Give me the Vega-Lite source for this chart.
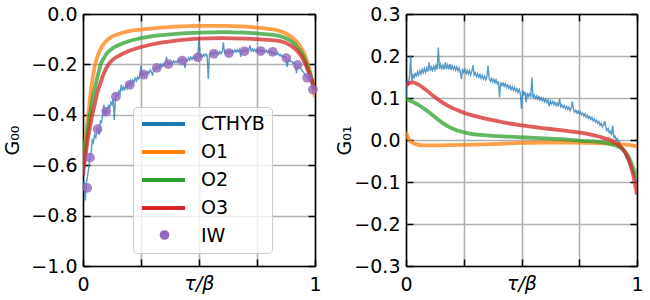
{
"$schema":"https://vega.github.io/schema/vega-lite/v6.json",
"padding":{"left":3,"top":5,"right":5,"bottom":3},
"bounds":"flush",
"spacing":91,
"datasets":{
"oL":[
{"s":"O1","t":0,"v":-0.6},{"s":"O1","t":0.005,"v":-0.55},{"s":"O1","t":0.01,"v":-0.5},{"s":"O1","t":0.015,"v":-0.46},{"s":"O1","t":0.02,"v":-0.42},{"s":"O1","t":0.025,"v":-0.38},{"s":"O1","t":0.03,"v":-0.335},{"s":"O1","t":0.04,"v":-0.265},{"s":"O1","t":0.05,"v":-0.21},{"s":"O1","t":0.06,"v":-0.175},{"s":"O1","t":0.075,"v":-0.14},{"s":"O1","t":0.1,"v":-0.107},{"s":"O1","t":0.125,"v":-0.09},{"s":"O1","t":0.15,"v":-0.08},{"s":"O1","t":0.2,"v":-0.068},{"s":"O1","t":0.25,"v":-0.062},{"s":"O1","t":0.3,"v":-0.057},{"s":"O1","t":0.4,"v":-0.05},{"s":"O1","t":0.5,"v":-0.047},{"s":"O1","t":0.6,"v":-0.047},{"s":"O1","t":0.7,"v":-0.05},{"s":"O1","t":0.75,"v":-0.054},{"s":"O1","t":0.8,"v":-0.059},{"s":"O1","t":0.85,"v":-0.068},{"s":"O1","t":0.9,"v":-0.092},{"s":"O1","t":0.93,"v":-0.12},{"s":"O1","t":0.95,"v":-0.15},{"s":"O1","t":0.97,"v":-0.2},{"s":"O1","t":0.98,"v":-0.235},{"s":"O1","t":0.99,"v":-0.28},{"s":"O1","t":1,"v":-0.33},
{"s":"O2","t":0,"v":-0.62},{"s":"O2","t":0.005,"v":-0.58},{"s":"O2","t":0.01,"v":-0.54},{"s":"O2","t":0.02,"v":-0.46},{"s":"O2","t":0.03,"v":-0.4},{"s":"O2","t":0.04,"v":-0.34},{"s":"O2","t":0.05,"v":-0.3},{"s":"O2","t":0.06,"v":-0.26},{"s":"O2","t":0.076,"v":-0.2},{"s":"O2","t":0.09,"v":-0.175},{"s":"O2","t":0.1,"v":-0.16},{"s":"O2","t":0.125,"v":-0.138},{"s":"O2","t":0.15,"v":-0.125},{"s":"O2","t":0.2,"v":-0.107},{"s":"O2","t":0.25,"v":-0.096},{"s":"O2","t":0.3,"v":-0.088},{"s":"O2","t":0.4,"v":-0.079},{"s":"O2","t":0.5,"v":-0.074},{"s":"O2","t":0.6,"v":-0.072},{"s":"O2","t":0.7,"v":-0.074},{"s":"O2","t":0.75,"v":-0.077},{"s":"O2","t":0.8,"v":-0.081},{"s":"O2","t":0.85,"v":-0.088},{"s":"O2","t":0.9,"v":-0.11},{"s":"O2","t":0.93,"v":-0.138},{"s":"O2","t":0.95,"v":-0.168},{"s":"O2","t":0.97,"v":-0.215},{"s":"O2","t":0.98,"v":-0.24},{"s":"O2","t":0.99,"v":-0.27},{"s":"O2","t":1,"v":-0.3},
{"s":"O3","t":0,"v":-0.64},{"s":"O3","t":0.005,"v":-0.6},{"s":"O3","t":0.01,"v":-0.57},{"s":"O3","t":0.02,"v":-0.5},{"s":"O3","t":0.03,"v":-0.45},{"s":"O3","t":0.04,"v":-0.4},{"s":"O3","t":0.05,"v":-0.36},{"s":"O3","t":0.06,"v":-0.32},{"s":"O3","t":0.075,"v":-0.275},{"s":"O3","t":0.09,"v":-0.235},{"s":"O3","t":0.11,"v":-0.2},{"s":"O3","t":0.13,"v":-0.18},{"s":"O3","t":0.15,"v":-0.168},{"s":"O3","t":0.2,"v":-0.146},{"s":"O3","t":0.25,"v":-0.131},{"s":"O3","t":0.3,"v":-0.12},{"s":"O3","t":0.4,"v":-0.106},{"s":"O3","t":0.5,"v":-0.098},{"s":"O3","t":0.6,"v":-0.096},{"s":"O3","t":0.7,"v":-0.098},{"s":"O3","t":0.75,"v":-0.1},{"s":"O3","t":0.8,"v":-0.103},{"s":"O3","t":0.85,"v":-0.108},{"s":"O3","t":0.9,"v":-0.128},{"s":"O3","t":0.93,"v":-0.153},{"s":"O3","t":0.95,"v":-0.182},{"s":"O3","t":0.97,"v":-0.225},{"s":"O3","t":0.98,"v":-0.25},{"s":"O3","t":0.99,"v":-0.27},{"s":"O3","t":1,"v":-0.29}
],
"oR":[
{"s":"O1","t":0,"v":0.02},{"s":"O1","t":0.005,"v":0.01},{"s":"O1","t":0.01,"v":0.004},{"s":"O1","t":0.02,"v":-0.003},{"s":"O1","t":0.03,"v":-0.007},{"s":"O1","t":0.05,"v":-0.011},{"s":"O1","t":0.08,"v":-0.013},{"s":"O1","t":0.12,"v":-0.013},{"s":"O1","t":0.2,"v":-0.012},{"s":"O1","t":0.3,"v":-0.011},{"s":"O1","t":0.4,"v":-0.009},{"s":"O1","t":0.5,"v":-0.007},{"s":"O1","t":0.6,"v":-0.006},{"s":"O1","t":0.7,"v":-0.006},{"s":"O1","t":0.8,"v":-0.007},{"s":"O1","t":0.85,"v":-0.008},{"s":"O1","t":0.9,"v":-0.009},{"s":"O1","t":0.95,"v":-0.011},{"s":"O1","t":1,"v":-0.015},
{"s":"O2","t":0,"v":0.098},{"s":"O2","t":0.02,"v":0.093},{"s":"O2","t":0.05,"v":0.085},{"s":"O2","t":0.08,"v":0.074},{"s":"O2","t":0.1,"v":0.066},{"s":"O2","t":0.12,"v":0.057},{"s":"O2","t":0.155,"v":0.042},{"s":"O2","t":0.19,"v":0.03},{"s":"O2","t":0.226,"v":0.022},{"s":"O2","t":0.27,"v":0.016},{"s":"O2","t":0.32,"v":0.012},{"s":"O2","t":0.37,"v":0.01},{"s":"O2","t":0.45,"v":0.008},{"s":"O2","t":0.515,"v":0.006},{"s":"O2","t":0.6,"v":0.004},{"s":"O2","t":0.7,"v":0.001},{"s":"O2","t":0.76,"v":-0.002},{"s":"O2","t":0.82,"v":-0.004},{"s":"O2","t":0.876,"v":-0.008},{"s":"O2","t":0.91,"v":-0.014},{"s":"O2","t":0.94,"v":-0.023},{"s":"O2","t":0.96,"v":-0.037},{"s":"O2","t":0.97,"v":-0.048},{"s":"O2","t":0.98,"v":-0.062},{"s":"O2","t":0.99,"v":-0.076},{"s":"O2","t":1,"v":-0.09},
{"s":"O3","t":0,"v":0.128},{"s":"O3","t":0.01,"v":0.134},{"s":"O3","t":0.03,"v":0.137},{"s":"O3","t":0.05,"v":0.133},{"s":"O3","t":0.08,"v":0.122},{"s":"O3","t":0.12,"v":0.104},{"s":"O3","t":0.155,"v":0.09},{"s":"O3","t":0.19,"v":0.079},{"s":"O3","t":0.226,"v":0.07},{"s":"O3","t":0.26,"v":0.063},{"s":"O3","t":0.3,"v":0.057},{"s":"O3","t":0.37,"v":0.048},{"s":"O3","t":0.44,"v":0.04},{"s":"O3","t":0.51,"v":0.034},{"s":"O3","t":0.58,"v":0.029},{"s":"O3","t":0.66,"v":0.024},{"s":"O3","t":0.72,"v":0.02},{"s":"O3","t":0.76,"v":0.017},{"s":"O3","t":0.8,"v":0.013},{"s":"O3","t":0.83,"v":0.009},{"s":"O3","t":0.86,"v":0.004},{"s":"O3","t":0.89,"v":-0.001},{"s":"O3","t":0.92,"v":-0.012},{"s":"O3","t":0.948,"v":-0.029},{"s":"O3","t":0.965,"v":-0.048},{"s":"O3","t":0.977,"v":-0.069},{"s":"O3","t":0.99,"v":-0.1},{"s":"O3","t":1,"v":-0.13}
],
"iw":[
{"t":0.018,"v":-0.69},{"t":0.03,"v":-0.57},{"t":0.063,"v":-0.457},{"t":0.1,"v":-0.387},{"t":0.142,"v":-0.328},{"t":0.202,"v":-0.281},{"t":0.262,"v":-0.241},{"t":0.318,"v":-0.214},{"t":0.368,"v":-0.199},{"t":0.428,"v":-0.185},{"t":0.495,"v":-0.172},{"t":0.564,"v":-0.158},{"t":0.629,"v":-0.155},{"t":0.696,"v":-0.148},{"t":0.766,"v":-0.147},{"t":0.818,"v":-0.15},{"t":0.877,"v":-0.175},{"t":0.925,"v":-0.202},{"t":0.966,"v":-0.253},{"t":0.991,"v":-0.3}
],
"cL":[
{"t":0,"v":-0.7},{"t":0.005,"v":-0.66},{"t":0.01,"v":-0.74},{"t":0.015,"v":-0.67},{"t":0.02,"v":-0.64},{"t":0.025,"v":-0.61},{"t":0.03,"v":-0.565},{"t":0.035,"v":-0.555},{"t":0.04,"v":-0.5},{"t":0.045,"v":-0.51},{"t":0.05,"v":-0.48},{"t":0.055,"v":-0.49},{"t":0.06,"v":-0.455},{"t":0.065,"v":-0.46},{"t":0.07,"v":-0.48},{"t":0.075,"v":-0.425},{"t":0.08,"v":-0.43},{"t":0.085,"v":-0.4},{"t":0.09,"v":-0.36},{"t":0.095,"v":-0.405},{"t":0.1,"v":-0.38},{"t":0.105,"v":-0.39},{"t":0.11,"v":-0.36},{"t":0.115,"v":-0.375},{"t":0.12,"v":-0.35},{"t":0.125,"v":-0.36},{"t":0.13,"v":-0.335},{"t":0.135,"v":-0.42},{"t":0.14,"v":-0.33},{"t":0.145,"v":-0.32},{"t":0.15,"v":-0.325},{"t":0.155,"v":-0.305},{"t":0.16,"v":-0.315},{"t":0.165,"v":-0.28},{"t":0.17,"v":-0.305},{"t":0.175,"v":-0.29},{"t":0.18,"v":-0.3},{"t":0.185,"v":-0.28},{"t":0.19,"v":-0.295},{"t":0.195,"v":-0.275},{"t":0.2,"v":-0.285},{"t":0.205,"v":-0.265},{"t":0.21,"v":-0.28},{"t":0.215,"v":-0.262},{"t":0.22,"v":-0.27},{"t":0.225,"v":-0.255},{"t":0.23,"v":-0.265},{"t":0.235,"v":-0.25},{"t":0.24,"v":-0.258},{"t":0.245,"v":-0.245},{"t":0.25,"v":-0.205},{"t":0.255,"v":-0.243},{"t":0.26,"v":-0.238},{"t":0.265,"v":-0.245},{"t":0.27,"v":-0.232},{"t":0.275,"v":-0.238},{"t":0.28,"v":-0.228},{"t":0.285,"v":-0.235},{"t":0.29,"v":-0.222},{"t":0.295,"v":-0.23},{"t":0.3,"v":-0.245},{"t":0.305,"v":-0.218},{"t":0.31,"v":-0.222},{"t":0.315,"v":-0.21},{"t":0.32,"v":-0.218},{"t":0.325,"v":-0.205},{"t":0.33,"v":-0.212},{"t":0.335,"v":-0.2},{"t":0.34,"v":-0.21},{"t":0.345,"v":-0.198},{"t":0.35,"v":-0.206},{"t":0.355,"v":-0.195},{"t":0.36,"v":-0.17},{"t":0.365,"v":-0.2},{"t":0.37,"v":-0.193},{"t":0.375,"v":-0.2},{"t":0.38,"v":-0.19},{"t":0.385,"v":-0.197},{"t":0.39,"v":-0.186},{"t":0.395,"v":-0.194},{"t":0.4,"v":-0.187},{"t":0.405,"v":-0.193},{"t":0.41,"v":-0.18},{"t":0.415,"v":-0.19},{"t":0.42,"v":-0.183},{"t":0.425,"v":-0.188},{"t":0.43,"v":-0.178},{"t":0.435,"v":-0.186},{"t":0.44,"v":-0.215},{"t":0.445,"v":-0.18},{"t":0.45,"v":-0.185},{"t":0.455,"v":-0.174},{"t":0.46,"v":-0.182},{"t":0.465,"v":-0.172},{"t":0.47,"v":-0.18},{"t":0.475,"v":-0.17},{"t":0.48,"v":-0.178},{"t":0.485,"v":-0.168},{"t":0.49,"v":-0.176},{"t":0.495,"v":-0.165},{"t":0.5,"v":-0.09},{"t":0.505,"v":-0.172},{"t":0.51,"v":-0.162},{"t":0.515,"v":-0.17},{"t":0.52,"v":-0.16},{"t":0.525,"v":-0.168},{"t":0.53,"v":-0.158},{"t":0.535,"v":-0.165},{"t":0.54,"v":-0.258},{"t":0.545,"v":-0.16},{"t":0.55,"v":-0.155},{"t":0.555,"v":-0.162},{"t":0.56,"v":-0.153},{"t":0.565,"v":-0.16},{"t":0.57,"v":-0.15},{"t":0.575,"v":-0.158},{"t":0.58,"v":-0.152},{"t":0.585,"v":-0.16},{"t":0.59,"v":-0.149},{"t":0.595,"v":-0.157},{"t":0.6,"v":-0.15},{"t":0.605,"v":-0.112},{"t":0.61,"v":-0.155},{"t":0.615,"v":-0.148},{"t":0.62,"v":-0.157},{"t":0.625,"v":-0.147},{"t":0.63,"v":-0.155},{"t":0.635,"v":-0.146},{"t":0.64,"v":-0.154},{"t":0.645,"v":-0.145},{"t":0.65,"v":-0.152},{"t":0.655,"v":-0.143},{"t":0.66,"v":-0.151},{"t":0.665,"v":-0.142},{"t":0.67,"v":-0.15},{"t":0.675,"v":-0.141},{"t":0.68,"v":-0.17},{"t":0.685,"v":-0.143},{"t":0.69,"v":-0.15},{"t":0.695,"v":-0.141},{"t":0.7,"v":-0.149},{"t":0.705,"v":-0.14},{"t":0.71,"v":-0.148},{"t":0.715,"v":-0.14},{"t":0.72,"v":-0.125},{"t":0.725,"v":-0.147},{"t":0.73,"v":-0.139},{"t":0.735,"v":-0.148},{"t":0.74,"v":-0.14},{"t":0.745,"v":-0.149},{"t":0.75,"v":-0.14},{"t":0.755,"v":-0.15},{"t":0.76,"v":-0.141},{"t":0.765,"v":-0.15},{"t":0.77,"v":-0.142},{"t":0.775,"v":-0.151},{"t":0.78,"v":-0.143},{"t":0.785,"v":-0.152},{"t":0.79,"v":-0.144},{"t":0.795,"v":-0.153},{"t":0.8,"v":-0.145},{"t":0.805,"v":-0.155},{"t":0.81,"v":-0.147},{"t":0.815,"v":-0.157},{"t":0.82,"v":-0.15},{"t":0.825,"v":-0.158},{"t":0.83,"v":-0.152},{"t":0.835,"v":-0.16},{"t":0.84,"v":-0.155},{"t":0.845,"v":-0.165},{"t":0.85,"v":-0.16},{"t":0.855,"v":-0.168},{"t":0.86,"v":-0.164},{"t":0.865,"v":-0.173},{"t":0.87,"v":-0.17},{"t":0.875,"v":-0.178},{"t":0.88,"v":-0.21},{"t":0.885,"v":-0.181},{"t":0.89,"v":-0.185},{"t":0.895,"v":-0.189},{"t":0.9,"v":-0.188},{"t":0.905,"v":-0.196},{"t":0.91,"v":-0.194},{"t":0.915,"v":-0.2},{"t":0.92,"v":-0.235},{"t":0.925,"v":-0.205},{"t":0.93,"v":-0.21},{"t":0.935,"v":-0.215},{"t":0.94,"v":-0.218},{"t":0.945,"v":-0.226},{"t":0.95,"v":-0.23},{"t":0.955,"v":-0.238},{"t":0.96,"v":-0.243},{"t":0.965,"v":-0.25},{"t":0.97,"v":-0.256},{"t":0.975,"v":-0.264},{"t":0.98,"v":-0.27},{"t":0.985,"v":-0.28},{"t":0.99,"v":-0.288},{"t":0.995,"v":-0.296},{"t":1,"v":-0.305}
],
"cR":[
{"t":0,"v":0.1},{"t":0.005,"v":0.145},{"t":0.01,"v":0.13},{"t":0.015,"v":0.15},{"t":0.02,"v":0.2},{"t":0.025,"v":0.14},{"t":0.03,"v":0.155},{"t":0.035,"v":0.148},{"t":0.04,"v":0.16},{"t":0.045,"v":0.15},{"t":0.05,"v":0.163},{"t":0.055,"v":0.155},{"t":0.06,"v":0.165},{"t":0.065,"v":0.157},{"t":0.07,"v":0.168},{"t":0.075,"v":0.16},{"t":0.08,"v":0.17},{"t":0.085,"v":0.161},{"t":0.09,"v":0.172},{"t":0.095,"v":0.163},{"t":0.1,"v":0.185},{"t":0.105,"v":0.165},{"t":0.11,"v":0.174},{"t":0.115,"v":0.166},{"t":0.12,"v":0.176},{"t":0.125,"v":0.167},{"t":0.13,"v":0.178},{"t":0.135,"v":0.168},{"t":0.14,"v":0.22},{"t":0.145,"v":0.169},{"t":0.15,"v":0.18},{"t":0.155,"v":0.17},{"t":0.16,"v":0.178},{"t":0.165,"v":0.168},{"t":0.17,"v":0.185},{"t":0.175,"v":0.169},{"t":0.18,"v":0.179},{"t":0.185,"v":0.168},{"t":0.19,"v":0.181},{"t":0.195,"v":0.167},{"t":0.2,"v":0.177},{"t":0.205,"v":0.168},{"t":0.21,"v":0.175},{"t":0.215,"v":0.166},{"t":0.22,"v":0.174},{"t":0.225,"v":0.164},{"t":0.23,"v":0.172},{"t":0.235,"v":0.162},{"t":0.24,"v":0.145},{"t":0.245,"v":0.17},{"t":0.25,"v":0.161},{"t":0.255,"v":0.168},{"t":0.26,"v":0.158},{"t":0.265,"v":0.166},{"t":0.27,"v":0.157},{"t":0.275,"v":0.165},{"t":0.28,"v":0.155},{"t":0.285,"v":0.163},{"t":0.29,"v":0.178},{"t":0.295,"v":0.155},{"t":0.3,"v":0.16},{"t":0.305,"v":0.151},{"t":0.31,"v":0.158},{"t":0.315,"v":0.149},{"t":0.32,"v":0.156},{"t":0.325,"v":0.147},{"t":0.33,"v":0.154},{"t":0.335,"v":0.145},{"t":0.34,"v":0.152},{"t":0.345,"v":0.143},{"t":0.35,"v":0.15},{"t":0.355,"v":0.178},{"t":0.36,"v":0.146},{"t":0.365,"v":0.14},{"t":0.37,"v":0.147},{"t":0.375,"v":0.138},{"t":0.38,"v":0.145},{"t":0.385,"v":0.136},{"t":0.39,"v":0.143},{"t":0.395,"v":0.134},{"t":0.4,"v":0.14},{"t":0.405,"v":0.102},{"t":0.41,"v":0.137},{"t":0.415,"v":0.13},{"t":0.42,"v":0.136},{"t":0.425,"v":0.128},{"t":0.43,"v":0.134},{"t":0.435,"v":0.125},{"t":0.44,"v":0.131},{"t":0.445,"v":0.123},{"t":0.45,"v":0.129},{"t":0.455,"v":0.12},{"t":0.46,"v":0.127},{"t":0.465,"v":0.118},{"t":0.47,"v":0.125},{"t":0.475,"v":0.116},{"t":0.48,"v":0.122},{"t":0.485,"v":0.113},{"t":0.49,"v":0.12},{"t":0.495,"v":0.111},{"t":0.5,"v":0.074},{"t":0.505,"v":0.118},{"t":0.51,"v":0.108},{"t":0.515,"v":0.115},{"t":0.52,"v":0.09},{"t":0.525,"v":0.112},{"t":0.53,"v":0.104},{"t":0.535,"v":0.11},{"t":0.54,"v":0.102},{"t":0.545,"v":0.149},{"t":0.55,"v":0.1},{"t":0.555,"v":0.107},{"t":0.56,"v":0.099},{"t":0.565,"v":0.105},{"t":0.57,"v":0.097},{"t":0.575,"v":0.103},{"t":0.58,"v":0.095},{"t":0.585,"v":0.101},{"t":0.59,"v":0.093},{"t":0.595,"v":0.099},{"t":0.6,"v":0.091},{"t":0.605,"v":0.097},{"t":0.61,"v":0.089},{"t":0.615,"v":0.095},{"t":0.62,"v":0.08},{"t":0.625,"v":0.093},{"t":0.63,"v":0.086},{"t":0.635,"v":0.092},{"t":0.64,"v":0.084},{"t":0.645,"v":0.09},{"t":0.65,"v":0.082},{"t":0.655,"v":0.088},{"t":0.66,"v":0.08},{"t":0.665,"v":0.098},{"t":0.67,"v":0.079},{"t":0.675,"v":0.084},{"t":0.68,"v":0.077},{"t":0.685,"v":0.082},{"t":0.69,"v":0.075},{"t":0.695,"v":0.08},{"t":0.7,"v":0.073},{"t":0.705,"v":0.078},{"t":0.71,"v":0.07},{"t":0.715,"v":0.076},{"t":0.72,"v":0.092},{"t":0.725,"v":0.072},{"t":0.73,"v":0.066},{"t":0.735,"v":0.071},{"t":0.74,"v":0.064},{"t":0.745,"v":0.069},{"t":0.75,"v":0.062},{"t":0.755,"v":0.067},{"t":0.76,"v":0.06},{"t":0.765,"v":0.064},{"t":0.77,"v":0.057},{"t":0.775,"v":0.062},{"t":0.78,"v":0.054},{"t":0.785,"v":0.059},{"t":0.79,"v":0.052},{"t":0.795,"v":0.056},{"t":0.8,"v":0.049},{"t":0.805,"v":0.054},{"t":0.81,"v":0.046},{"t":0.815,"v":0.05},{"t":0.82,"v":0.043},{"t":0.825,"v":0.047},{"t":0.83,"v":0.039},{"t":0.835,"v":0.044},{"t":0.84,"v":0.035},{"t":0.845,"v":0.04},{"t":0.85,"v":0.031},{"t":0.855,"v":0.036},{"t":0.86,"v":0.045},{"t":0.865,"v":0.031},{"t":0.87,"v":0.022},{"t":0.875,"v":0.027},{"t":0.88,"v":0.017},{"t":0.885,"v":0.021},{"t":0.89,"v":0.011},{"t":0.895,"v":0.034},{"t":0.9,"v":0.006},{"t":0.905,"v":0.009},{"t":0.91,"v":0},{"t":0.915,"v":0.003},{"t":0.92,"v":-0.006},{"t":0.925,"v":-0.004},{"t":0.93,"v":-0.014},{"t":0.935,"v":-0.016},{"t":0.94,"v":-0.026},{"t":0.945,"v":-0.03},{"t":0.95,"v":-0.038},{"t":0.955,"v":-0.044},{"t":0.96,"v":-0.05},{"t":0.965,"v":-0.056},{"t":0.97,"v":-0.062},{"t":0.975,"v":-0.068},{"t":0.98,"v":-0.075},{"t":0.985,"v":-0.082},{"t":0.99,"v":-0.088},{"t":0.995,"v":-0.095},{"t":1,"v":-0.1}
]
},
"hconcat":[
{
"width":232,"height":252,
"layer":[
{"data":{"name":"cL"},"mark":{"type":"line","strokeWidth":1.4,"opacity":0.75,"clip":true},
"encoding":{
"x":{"field":"t","type":"quantitative","scale":{"domain":[0,1],"nice":false},"axis":{"orient":"top","values":[0,0.25,0.5,0.75,1],"labels":false,"grid":false,"title":null}},
"y":{"field":"v","type":"quantitative","scale":{"domain":[-1,0],"nice":false,"zero":false},"axis":{"orient":"right","values":[-1,-0.8,-0.6,-0.4,-0.2,0],"labels":false,"grid":false,"title":null}},
"color":{"datum":"CTHYB","type":"nominal","scale":{"domain":["CTHYB","O1","O2","O3","IW"],"range":["#1f77b4","#ff7f0e","#2ca02c","#d62728","rgba(0,0,0,0)"]},
"legend":{"orient":"none","legendX":50,"legendY":93,"title":null,"symbolType":"stroke","symbolOpacity":1}}
}},
{"data":{"name":"oL"},"mark":{"type":"line","strokeWidth":3.8,"opacity":0.75,"interpolate":"monotone","clip":true},
"encoding":{
"x":{"field":"t","type":"quantitative","axis":{"orient":"bottom","values":[0,0.25,0.5,0.75,1],"labelExpr":"datum.value == 0 ? '0' : datum.value == 1 ? '1' : ''","grid":true,"title":"τ/β","titleFontStyle":"italic","titleY":23,"titleBaseline":"alphabetic","labelPadding":16}},
"y":{"field":"v","type":"quantitative","axis":{"orient":"left","values":[-1,-0.8,-0.6,-0.4,-0.2,0],"format":".1f","grid":true,"title":"G₀₀","titleX":-65,"titleBaseline":"alphabetic","labelPadding":13}},
"color":{"field":"s","type":"nominal","legend":{"orient":"none","legendX":50,"legendY":93,"title":null,"symbolType":"stroke","symbolOpacity":1}}
}},
{"data":{"name":"iw"},"mark":{"type":"circle","size":95,"opacity":0.8},
"encoding":{
"x":{"field":"t","type":"quantitative","axis":null},
"y":{"field":"v","type":"quantitative","axis":null},
"fill":{"datum":"IW","type":"nominal","scale":{"domain":["IW"],"range":["#9467bd"]},
"legend":{"orient":"none","legendX":72,"legendY":211,"title":null,"symbolType":"circle","symbolSize":95,"symbolOpacity":1,"symbolStrokeWidth":0,"padding":0,"fillColor":"rgba(0,0,0,0)","strokeColor":"rgba(0,0,0,0)","labelExpr":"''","clipHeight":20}}
}}
],
"resolve":{"axis":{"x":"independent","y":"independent"}}
},
{
"width":231,"height":252,
"layer":[
{"data":{"name":"cR"},"mark":{"type":"line","strokeWidth":1.4,"opacity":0.75,"clip":true},
"encoding":{
"x":{"field":"t","type":"quantitative","scale":{"domain":[0,1],"nice":false},"axis":{"orient":"top","values":[0,0.25,0.5,0.75,1],"labels":false,"grid":false,"title":null}},
"y":{"field":"v","type":"quantitative","scale":{"domain":[-0.3,0.3],"nice":false,"zero":false},"axis":{"orient":"right","values":[-0.3,-0.2,-0.1,0,0.1,0.2,0.3],"labels":false,"grid":false,"title":null}},
"color":{"datum":"CTHYB","type":"nominal","scale":{"domain":["CTHYB","O1","O2","O3"],"range":["#1f77b4","#ff7f0e","#2ca02c","#d62728"]},"legend":null}
}},
{"data":{"name":"oR"},"mark":{"type":"line","strokeWidth":3.8,"opacity":0.75,"interpolate":"monotone","clip":true},
"encoding":{
"x":{"field":"t","type":"quantitative","axis":{"orient":"bottom","values":[0,0.25,0.5,0.75,1],"labelExpr":"datum.value == 0 ? '0' : datum.value == 1 ? '1' : ''","grid":true,"title":"τ/β","titleFontStyle":"italic","titleY":23,"titleBaseline":"alphabetic","labelPadding":16}},
"y":{"field":"v","type":"quantitative","axis":{"orient":"left","values":[-0.3,-0.2,-0.1,0,0.1,0.2,0.3],"format":".1f","grid":true,"title":"G₀₁","titleX":-56,"titleBaseline":"alphabetic","labelPadding":13}},
"color":{"field":"s","type":"nominal","legend":null}
}}
],
"resolve":{"axis":{"x":"independent","y":"independent"}}
}
],
"resolve":{"scale":{"color":"independent","fill":"independent"},"legend":{"color":"independent","fill":"independent"}},
"config":{
"font":"DejaVu Sans",
"view":{"stroke":null},
"axis":{"tickSize":-7,"tickColor":"black","tickWidth":1.5,"domainColor":"black","domainWidth":1.5,"labelFont":"DejaVu Sans","labelFontSize":19,"labelColor":"black","labelFlush":false,"labelOverlap":false,"titleFont":"DejaVu Sans","titleFontSize":19,"titleFontWeight":"normal","titleColor":"black","gridColor":"#b0b0b0","gridWidth":1.6,"gridOpacity":1},
"legend":{"symbolType":"stroke","symbolSize":1849,"symbolStrokeWidth":4,"labelFont":"DejaVu Sans","labelFontSize":19,"labelColor":"black","labelOffset":14,"padding":7,"rowPadding":8,"clipHeight":20,"fillColor":"rgba(255,255,255,0.8)","strokeColor":"#cccccc","cornerRadius":4}
}
}
